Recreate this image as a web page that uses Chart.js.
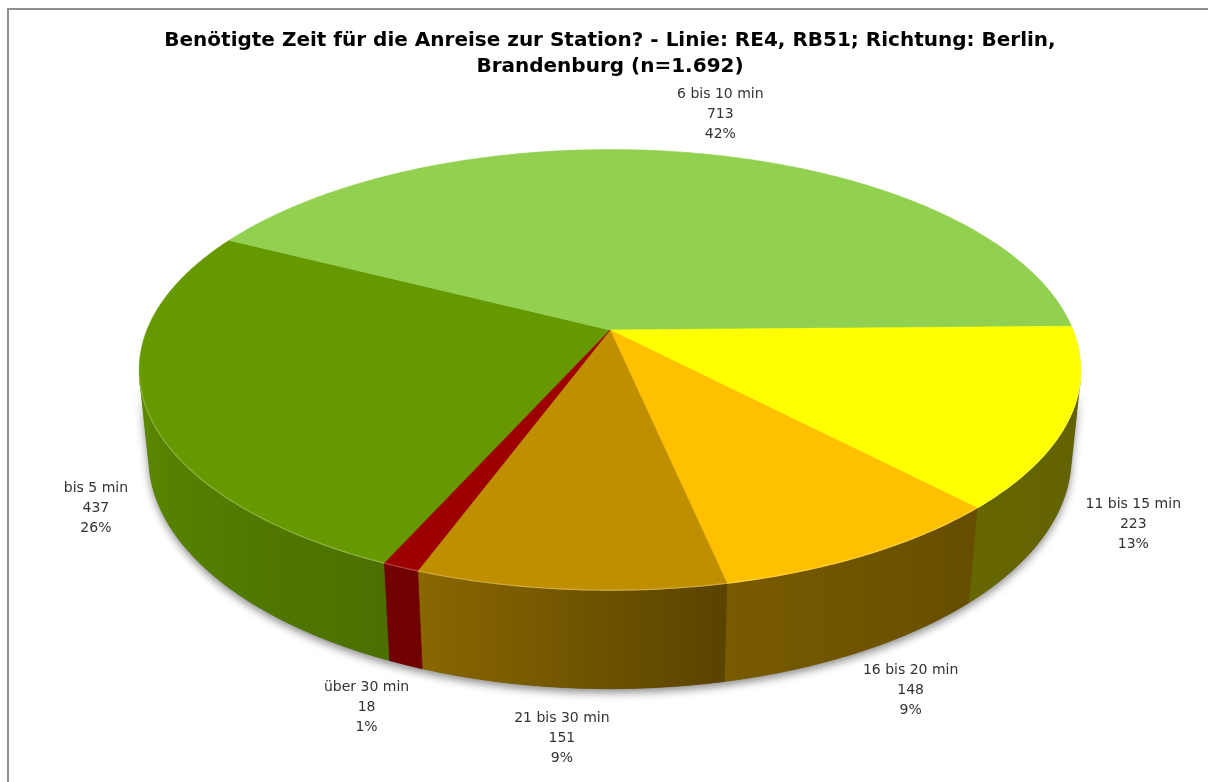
<!DOCTYPE html>
<html>
<head>
<meta charset="utf-8">
<script src="https://cdn.jsdelivr.net/npm/chart.js@4/dist/chart.umd.min.js"></script>
<style>
  body { margin: 0; background: #fff; }
  #frame { position: absolute; left: 7px; top: 8px; width: 1400px; height: 1000px;
           border-left: 2px solid #8f8f8f; border-top: 2px solid #8f8f8f; }
  #wrap { position: absolute; left: 0; top: 0; width: 1208px; height: 782px; }
</style>
</head>
<body>
<div id="frame"></div>
<div id="wrap"><canvas id="myChart" width="1208" height="782"></canvas></div>
<script>
// data
var categories = ['bis 5 min', '6 bis 10 min', '11 bis 15 min', '16 bis 20 min', '21 bis 30 min', 'über 30 min'];
var counts = [437, 713, 223, 148, 151, 18];
var sliceColors = ['#669900', '#92D050', '#FFFF00', '#FFC000', '#BF8F00', '#9C0000'];
var titleLines = ['Benötigte Zeit für die Anreise zur Station? - Linie: RE4, RB51; Richtung: Berlin,', 'Brandenburg (n=1.692)'];

// 3d look: camera distance, tilt, thickness (in pie radii)
var camDist = 4.91;
var tilt = 27.4 * Math.PI / 180;
var thick = 0.214;
var focal = 9.28;   // screen scale in pie radii

// wall shading by angle (deg, clockwise from back)
var shadeTable = [[90, 0.37], [136, 0.40], [168, 0.47], [200, 0.72], [257, 0.9], [270, 0.92]];

function shadeAt(deg) {
    if (deg <= shadeTable[0][0]) return shadeTable[0][1];
    for (var i = 1; i < shadeTable.length; i++) {
        if (deg <= shadeTable[i][0]) {
            var a = shadeTable[i-1], b = shadeTable[i];
            return a[1] + (b[1] - a[1]) * (deg - a[0]) / (b[0] - a[0]);
        }
    }
    return shadeTable[shadeTable.length-1][1];
}

function hexRgb(hex) {
    var n = parseInt(hex.slice(1), 16);
    return [(n >> 16) & 255, (n >> 8) & 255, n & 255];
}

function scaled(hex, f) {
    var c = hexRgb(hex);
    return 'rgb(' + Math.round(c[0]*f) + ',' + Math.round(c[1]*f) + ',' + Math.round(c[2]*f) + ')';
}

function lighter(hex, f) {
    var c = hexRgb(hex);
    return 'rgb(' + Math.round(c[0] + (255-c[0])*f) + ',' + Math.round(c[1] + (255-c[1])*f) + ',' + Math.round(c[2] + (255-c[2])*f) + ')';
}

var pie3d = {
    id: 'pie3d',
    beforeDatasetsDraw: function(chart) {
        var ctx = chart.ctx;
        var meta = chart.getDatasetMeta(0);
        var arcs = meta.data;
        if (!arcs.length) return false;
        var cx = arcs[0].x, cy = arcs[0].y;
        var G = focal * arcs[0].outerRadius;
        var ce = Math.cos(tilt), se = Math.sin(tilt);

        function proj(th, r, z) {
            var X = r * Math.sin(th), Y = r * Math.cos(th);
            var d = camDist + Y * ce - z * se;
            return [cx + G * X / d, cy - G * (Y * se + z * ce) / d];
        }
        function rimPath(a, b, z, first) {
            var n = Math.max(2, Math.ceil(Math.abs(b - a) / 0.01));
            for (var i = 0; i <= n; i++) {
                var p = proj(a + (b - a) * i / n, 1, z);
                if (i == 0 && first) ctx.moveTo(p[0], p[1]); else ctx.lineTo(p[0], p[1]);
            }
        }

        // visible part of the side wall
        var lim = Math.acos(-1 / (camDist * ce));
        var vis1 = lim, vis2 = 2 * Math.PI - lim;

        var slices = [];
        for (var i = 0; i < arcs.length; i++) {
            var s = arcs[i].startAngle + Math.PI / 2;
            var e = arcs[i].endAngle + Math.PI / 2;
            while (s < 0) { s += 2*Math.PI; e += 2*Math.PI; }
            slices.push([s, e]);
        }

        // shadow under the pie
        ctx.save();
        ctx.shadowColor = 'rgba(0,0,0,0.45)';
        ctx.shadowBlur = 9;
        ctx.shadowOffsetY = 4;
        ctx.shadowOffsetX = 0;
        ctx.fillStyle = '#555';
        ctx.beginPath();
        rimPath(vis1, vis2, 0, true);
        rimPath(vis2, vis1, -thick, false);
        ctx.closePath();
        ctx.fill();
        ctx.restore();

        // side walls
        for (var i = 0; i < slices.length; i++) {
            var ranges = [];
            [0, 2*Math.PI, -2*Math.PI].forEach(function(off) {
                var a = Math.max(slices[i][0] + off, vis1), b = Math.min(slices[i][1] + off, vis2);
                if (b > a) ranges.push([a, b]);
            });
            ranges.forEach(function(rg) {
                var a = rg[0], b = rg[1];
                var pa = proj(a, 1, 0), pb = proj(b, 1, 0);
                var x0 = Math.min(pa[0], pb[0]), x1 = Math.max(pa[0], pb[0]);
                var grad = ctx.createLinearGradient(x0, 0, x1 + 0.01, 0);
                for (var k = 0; k <= 8; k++) {
                    var th = a + (b - a) * k / 8;
                    var px = proj(th, 1, 0)[0];
                    var t = Math.min(1, Math.max(0, (px - x0) / (x1 - x0 + 0.01)));
                    grad.addColorStop(t, scaled(sliceColors[i], shadeAt(th * 180 / Math.PI)));
                }
                ctx.beginPath();
                rimPath(a, b, 0, true);
                rimPath(b, a, -thick, false);
                ctx.closePath();
                ctx.fillStyle = grad;
                ctx.fill();
                ctx.strokeStyle = grad;
                ctx.lineWidth = 0.6;
                ctx.stroke();
            });
        }

        // top faces
        var c0 = proj(0, 0, 0);
        for (var i = 0; i < slices.length; i++) {
            ctx.beginPath();
            ctx.moveTo(c0[0], c0[1]);
            rimPath(slices[i][0], slices[i][1], 0, false);
            ctx.closePath();
            ctx.fillStyle = sliceColors[i];
            ctx.fill();
            ctx.strokeStyle = sliceColors[i];
            ctx.lineWidth = 0.6;
            ctx.stroke();
        }

        // light edge on the front rim
        for (var i = 0; i < slices.length; i++) {
            [0, 2*Math.PI, -2*Math.PI].forEach(function(off) {
                var a = Math.max(slices[i][0] + off, vis1), b = Math.min(slices[i][1] + off, vis2);
                if (b <= a) return;
                ctx.beginPath();
                rimPath(a, b, 0, true);
                ctx.strokeStyle = lighter(sliceColors[i], 0.25);
                ctx.lineWidth = 1.2;
                ctx.stroke();
            });
        }

        // data labels
        var total = counts.reduce(function(p, v) { return p + v; }, 0);
        var mid = proj(0, 0, -thick / 2);
        ctx.font = '14px "DejaVu Sans"';
        ctx.fillStyle = '#333333';
        ctx.textAlign = 'center';
        ctx.textBaseline = 'middle';
        for (var i = 0; i < slices.length; i++) {
            var th = (slices[i][0] + slices[i][1]) / 2;
            var z = Math.cos(th) < 0 ? -thick : 0;
            var p = proj(th, 1.05, z);
            var lines = [categories[i], String(counts[i]), Math.round(counts[i] / total * 100) + '%'];
            var w = 0;
            lines.forEach(function(l) { w = Math.max(w, ctx.measureText(l).width); });
            var h = lines.length * 20;
            var dx = p[0] - mid[0], dy = p[1] - mid[1];
            var len = Math.sqrt(dx*dx + dy*dy);
            dx /= len; dy /= len;
            var bx = p[0] + dx * (w / 2 + 4), by = p[1] + dy * (h / 2 + 4);
            for (var j = 0; j < lines.length; j++) {
                ctx.fillText(lines[j], bx, by - h / 2 + 10 + j * 20);
            }
        }
        return false;
    }
};

var ctx = document.getElementById('myChart').getContext('2d');
var causeChart = new Chart(ctx, {
    type: 'pie',
    data: {
        labels: categories,
        datasets: [{
            data: counts,
            backgroundColor: sliceColors,
            borderWidth: 0
        }]
    },
    options: {
        responsive: false,
        animation: false,
        rotation: 204,
        layout: { padding: { top: 3, bottom: 207, left: 12, right: 0 } },
        plugins: {
            legend: { display: false },
            tooltip: { enabled: false },
            title: {
                display: true,
                text: titleLines,
                color: '#000',
                font: { family: '"DejaVu Sans"', size: 20, weight: 'bold', lineHeight: 1.3 },
                padding: { top: 25, bottom: 5 }
            }
        }
    },
    plugins: [pie3d]
});
</script>
</body>
</html>
